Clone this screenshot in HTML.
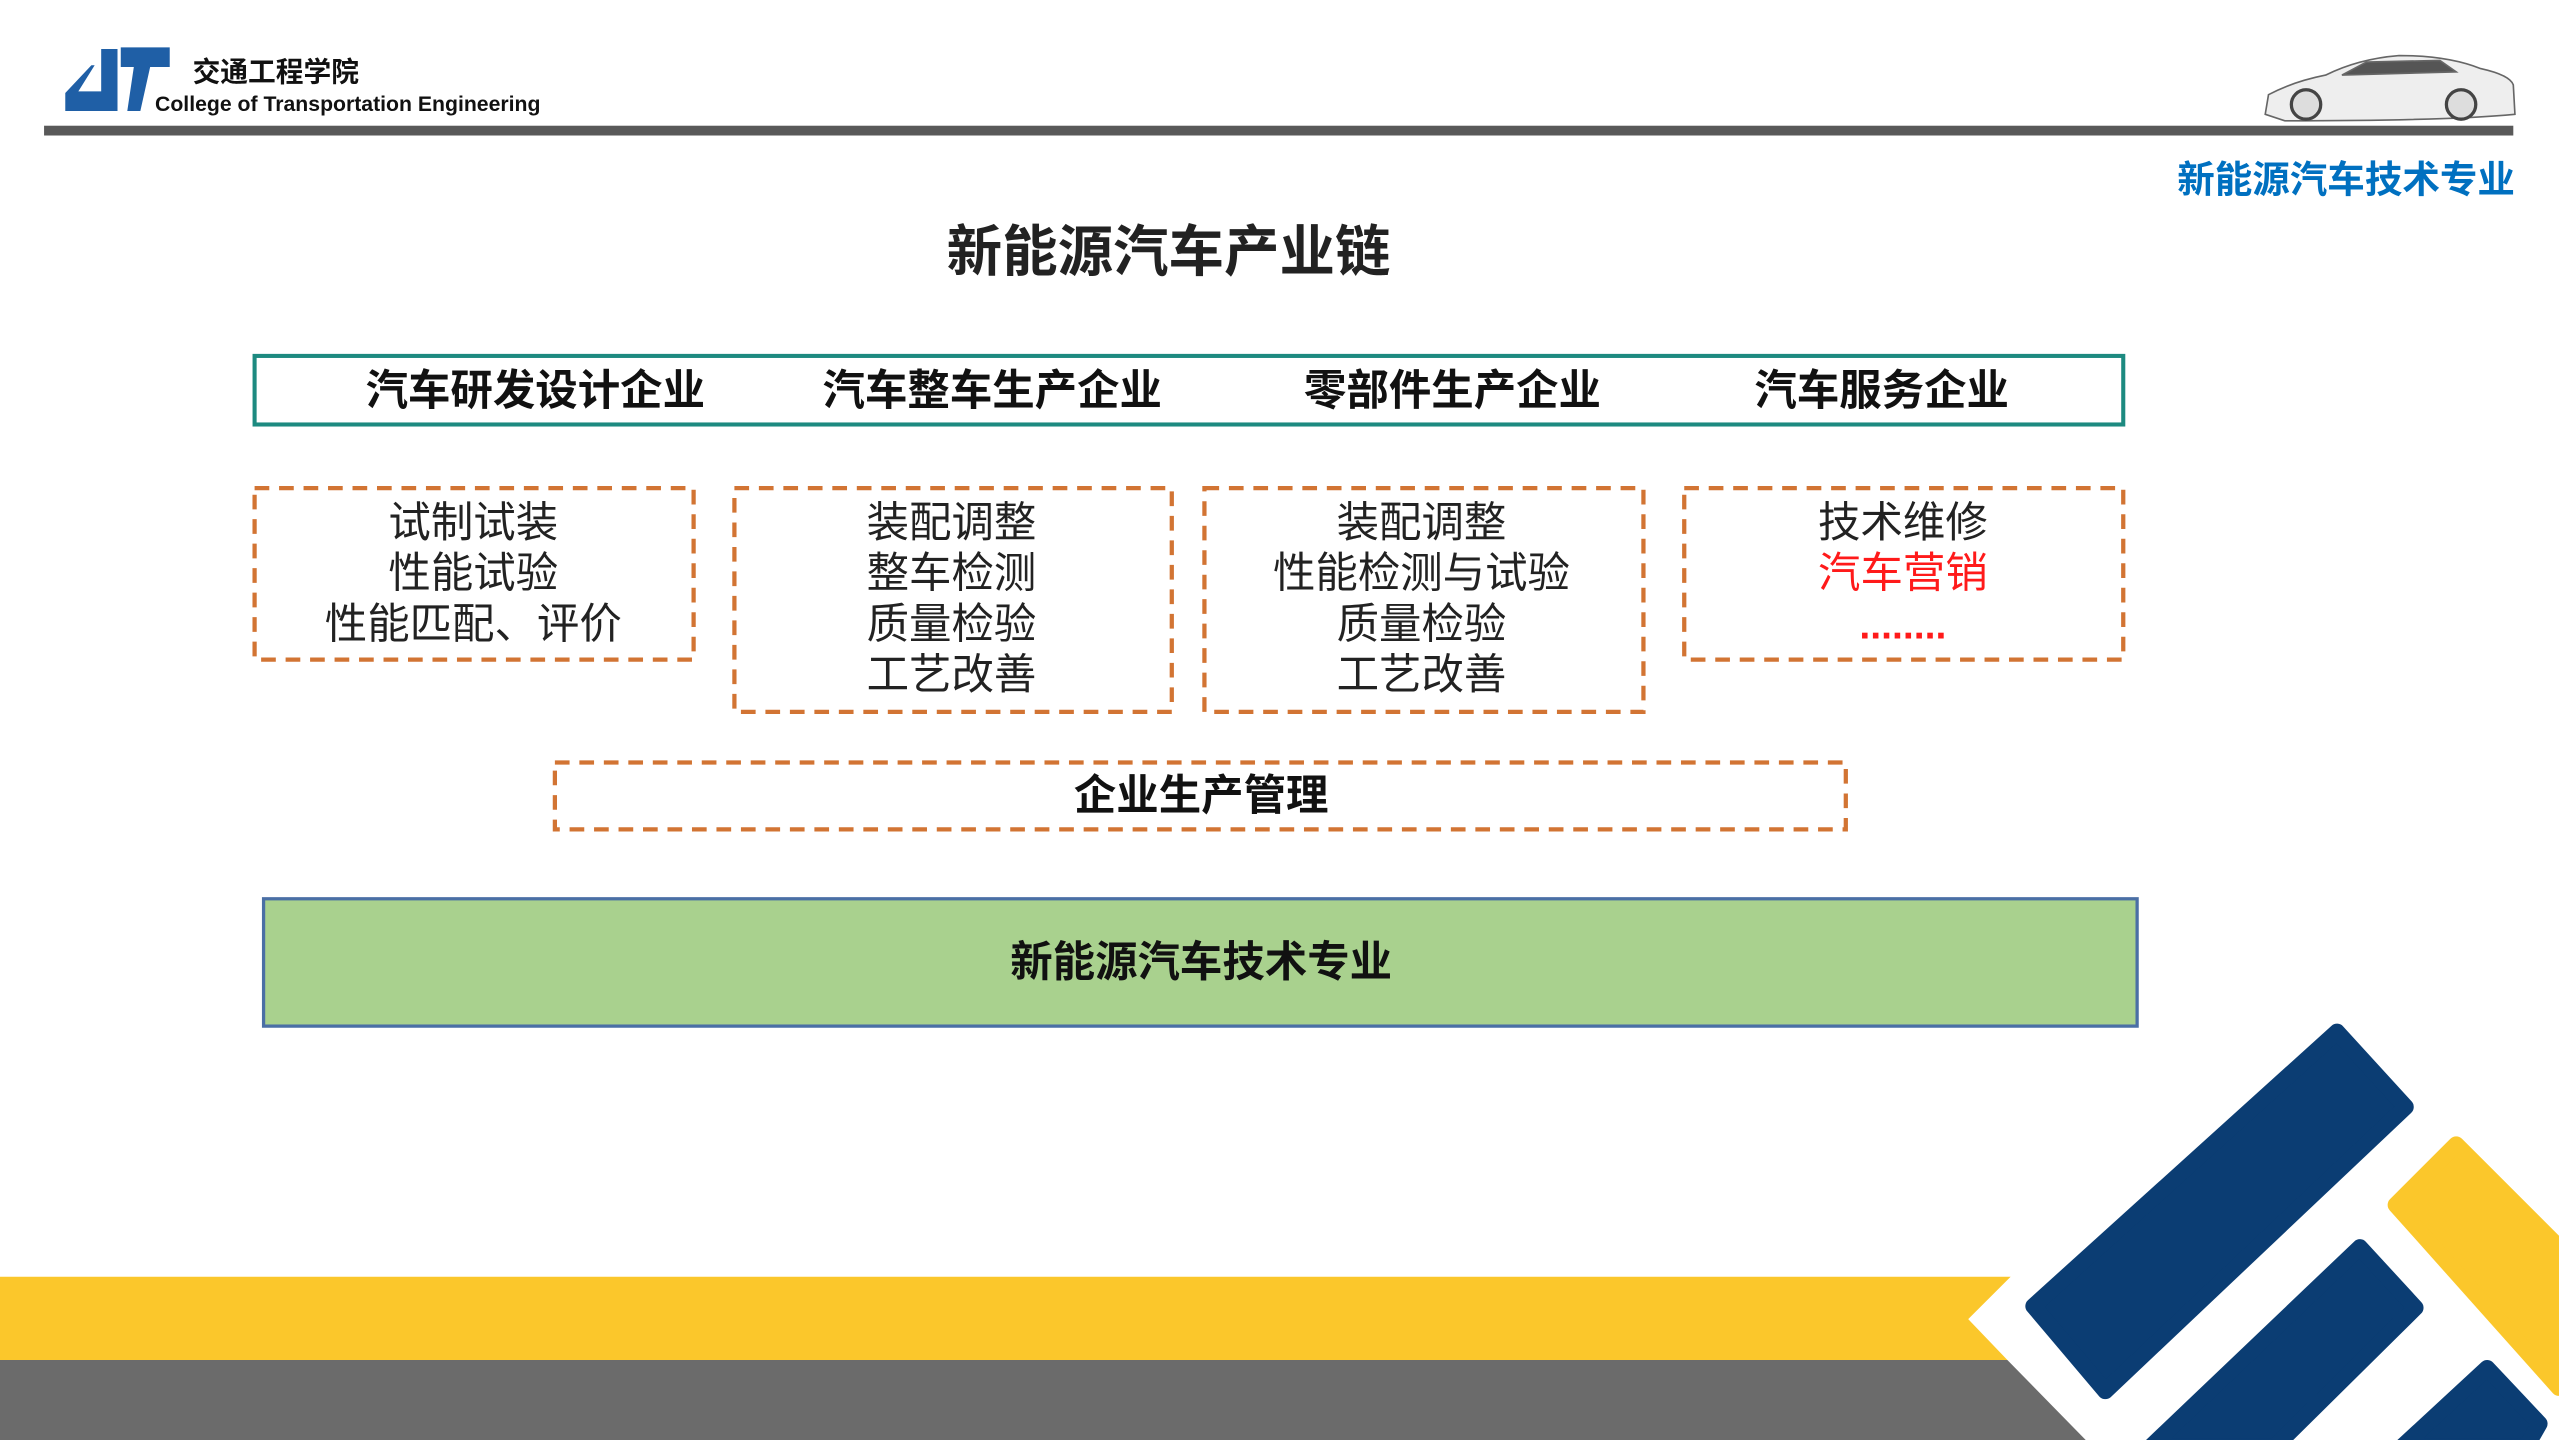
<!DOCTYPE html>
<html><head><meta charset="utf-8"><style>
html,body{margin:0;padding:0;background:#fff;}
svg{display:block;}
text{font-family:"Liberation Sans","Noto Sans CJK SC",sans-serif;}
</style></head><body>
<svg width="2559" height="1440" viewBox="0 0 1568 882" preserveAspectRatio="none" xmlns="http://www.w3.org/2000/svg">
<rect width="1568" height="882" fill="#fff"/>
<polygon points="62,30 72,30 72,68 40,68 40,57 56,40 58,40 48,56 62,56" fill="#1f5fa6"/>
<polygon points="74,29 104,29 104,41 92,41 86,68 78,68 82,41 74,41" fill="#1f5fa6"/>
<text x="118" y="50" font-size="17" font-weight="bold" fill="#111">交通工程学院</text>
<text x="95" y="68" font-size="13" font-weight="bold" fill="#111">College of Transportation Engineering</text>
<rect x="27" y="77" width="1513" height="6" fill="#595959"/>
<g fill="none" stroke="#666" stroke-width="1">
<path d="M1388,70 L1390,58 Q1405,50 1425,46 Q1445,36 1470,34 Q1500,34 1520,42 Q1538,46 1540,52 L1541,70 Q1500,74 1400,74 Z" fill="#eee"/>
<path d="M1435,46 L1450,38 L1495,37 L1505,44 Z" fill="#555"/>
</g>
<circle cx="1413" cy="64" r="9" fill="#ddd" stroke="#444" stroke-width="2"/>
<circle cx="1508" cy="64" r="9" fill="#ddd" stroke="#444" stroke-width="2"/>
<text x="1541" y="118" font-size="23" font-weight="bold" fill="#0070c0" text-anchor="end">新能源汽车技术专业</text>
<text x="716" y="166" font-size="34" font-weight="bold" fill="#222" text-anchor="middle">新能源汽车产业链</text>
<rect x="156" y="218" width="1145" height="42" fill="#fff" stroke="#1d8a80" stroke-width="2.5"/>
<g font-size="26" font-weight="bold" fill="#111" text-anchor="middle">
<text x="328" y="248">汽车研发设计企业</text>
<text x="608" y="248">汽车整车生产企业</text>
<text x="890" y="248">零部件生产企业</text>
<text x="1153" y="248">汽车服务企业</text>
</g>
<g fill="none" stroke="#d27433" stroke-width="2.6" stroke-dasharray="9,6">
<rect x="156" y="299" width="269" height="105"/>
<rect x="450" y="299" width="268" height="137"/>
<rect x="738" y="299" width="269" height="137"/>
<rect x="1032" y="299" width="269" height="105"/>
<rect x="340" y="467" width="791" height="41"/>
</g>
<g font-size="26" fill="#222" text-anchor="middle">
<text x="290" y="329">试制试装</text>
<text x="290" y="360">性能试验</text>
<text x="290" y="391">性能匹配、评价</text>
<text x="583" y="329">装配调整</text>
<text x="583" y="360">整车检测</text>
<text x="583" y="391">质量检验</text>
<text x="583" y="422">工艺改善</text>
<text x="871" y="329">装配调整</text>
<text x="871" y="360">性能检测与试验</text>
<text x="871" y="391">质量检验</text>
<text x="871" y="422">工艺改善</text>
<text x="1166" y="329">技术维修</text>
<text x="1166" y="360" fill="#ff1a1a">汽车营销</text>
<text x="1166" y="391" fill="#ff1a1a" font-size="24" font-weight="bold">........</text>
</g>
<text x="736" y="496" font-size="26" font-weight="bold" fill="#111" text-anchor="middle">企业生产管理</text>
<rect x="161.5" y="550.5" width="1148" height="78" fill="#a9d18e" stroke="#4a6fa5" stroke-width="2"/>
<text x="736" y="598" font-size="26" font-weight="bold" fill="#111" text-anchor="middle">新能源汽车技术专业</text>
<polygon points="0,782 1232,782 1206,808 1230,833 0,833" fill="#fbc72b"/>
<polygon points="0,833 1230,833 1278,882 0,882" fill="#6b6b6b"/>
<g stroke-linejoin="round" stroke-width="10">
<polygon points="1246,800 1432,632 1474,678 1290,852" fill="#0b3d73" stroke="#0b3d73"/>
<polygon points="1468,738 1505,701 1568,764 1568,850" fill="#fbc72b" stroke="#fbc72b"/>
<polygon points="1446,764 1480,801 1394,886 1318,886" fill="#0b3d73" stroke="#0b3d73"/>
<polygon points="1524,838 1556,872 1548,886 1472,886" fill="#0b3d73" stroke="#0b3d73"/>
</g>
</svg>
</body></html>
